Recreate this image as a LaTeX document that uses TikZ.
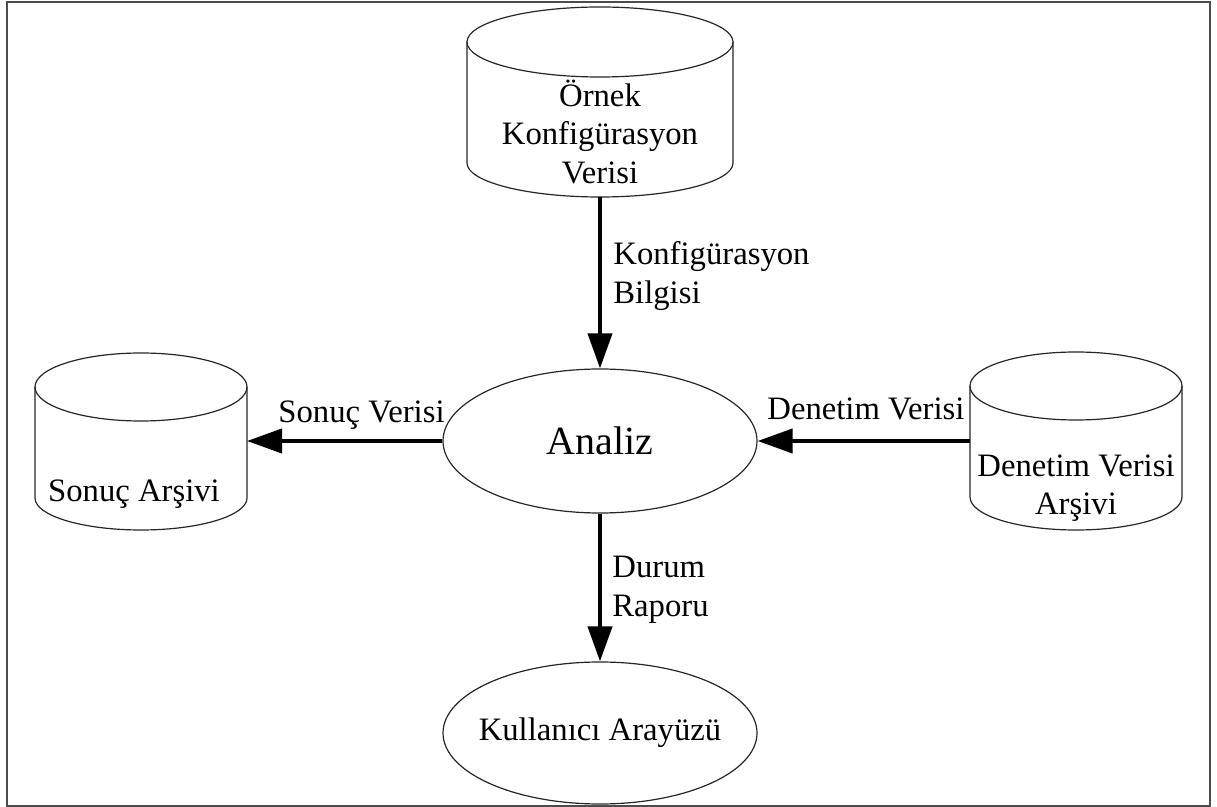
\documentclass[tikz,border=0pt]{standalone}
\usepackage{fontspec}
\setmainfont{Liberation Serif}
\usetikzlibrary{arrows.meta,shapes.geometric}
\begin{document}
\begin{tikzpicture}[x=0.5pt,y=0.5pt,
  outline/.style={line width=0.6pt, draw=black!85},
  proc/.style={ellipse, draw=black!85, line width=0.6pt, minimum width=157pt, minimum height=72pt, inner sep=0pt},
  flow/.style={line width=2pt, draw=black, -{Triangle[length=17.5pt,width=12pt]}},
  lbl/.style={font=\fontsize{16.35}{19.25}\selectfont, inner sep=0pt},
  big/.style={font=\fontsize{20}{24}\selectfont}]
\useasboundingbox (0,0) rectangle (1217,-807);
% frame
\draw[line width=1pt, draw=black!70] (7,-2) rectangle (1210,-806);
% top cylinder
\draw[outline] (600,-42) ellipse [x radius=133, y radius=35];
\draw[outline] (467,-42) -- (467,-163) arc[start angle=180, end angle=360, x radius=133, y radius=34] -- (733,-42);
\coordinate (ornek-s) at (600,-197);
\node[lbl, align=center] (ornek) at (600,-132) {Örnek\\Konfigürasyon\\Verisi};
% left cylinder
\draw[outline] (141,-387) ellipse [x radius=106, y radius=34];
\draw[outline] (35,-387) -- (35,-498) arc[start angle=180, end angle=360, x radius=106, y radius=32] -- (247,-387);
\coordinate (sonuc-e) at (247,-441);
\node[lbl, anchor=base] (sonucA) at (134,-502) {Sonuç Arşivi};
% right cylinder
\draw[outline] (1076,-386) ellipse [x radius=106, y radius=34];
\draw[outline] (970,-386) -- (970,-497) arc[start angle=180, end angle=360, x radius=106, y radius=33] -- (1182,-386);
\coordinate (denetim-w) at (970,-441);
\node[lbl, align=center] (denetimA) at (1076,-488) {Denetim Verisi\\Arşivi};
% processes
\node[proc, big] (analiz) at (600,-441) {\makebox[0pt]{Analiz}};
\node[proc, lbl, minimum height=71pt] (ui) at (600,-733) {\makebox[0pt]{Kullanıcı Arayüzü}};
% flows
\draw[flow] (ornek-s) -- (analiz.north);
\draw[flow] (analiz.west) -- (sonuc-e);
\draw[flow] (denetim-w) -- (analiz.east);
\draw[flow] (analiz.south) -- (ui.north);
% labels
\node[lbl, align=left, anchor=west] (kb) at (613,-276) {Konfigürasyon\\Bilgisi};
\node[lbl, anchor=base east] (sv) at (445,-423) {Sonuç Verisi};
\node[lbl, anchor=base west] (dv) at (767,-420) {Denetim Verisi};
\node[lbl, align=left, anchor=west] (dr) at (612,-590) {Durum\\Raporu};
\end{tikzpicture}
\end{document}
